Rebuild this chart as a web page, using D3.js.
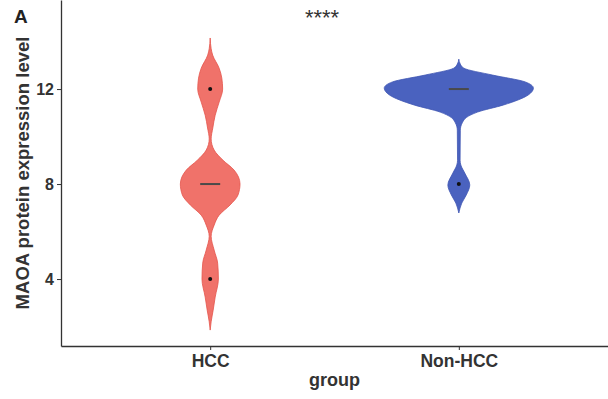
<!DOCTYPE html>
<html>
<head>
<meta charset="utf-8">
<script src="https://cdn.jsdelivr.net/npm/d3@7"></script>
<style>
  body { margin: 0; background: #fff; }
  text { font-family: "Liberation Sans", Arial, sans-serif; }
</style>
</head>
<body>
<div id="chart"></div>
<script>
// categories and ticks
const groups = ["HCC", "Non-HCC"];
const yTicks = [4, 8, 12];

// violin outlines (level, relative density)
const hccLevels  = [14.15, 13.7, 13.43, 12.88, 12.46, 12.0, 11.45, 10.9, 10.36, 9.9, 9.43, 9.0, 8.59, 8.0, 7.54, 7.12, 6.69, 6.27, 5.8, 5.22, 4.67, 4.0, 3.24, 2.69, 2.2, 1.85];
const hccDensity = [0, 0.013, 0.033, 0.12, 0.156, 0.167, 0.12, 0.067, 0.035, 0.013, 0.053, 0.173, 0.32, 0.40, 0.373, 0.267, 0.12, 0.053, 0.013, 0.053, 0.10, 0.11, 0.067, 0.04, 0.013, 0];
const nonLevels  = [13.26, 13.05, 12.88, 12.59, 12.3, 12.04, 11.75, 11.33, 11.03, 10.8, 10.6, 10.27, 9.0, 8.8, 8.46, 7.96, 7.54, 7.2, 6.78];
const nonDensity = [0, 0.02, 0.067, 0.45, 0.89, 1.0, 0.93, 0.6, 0.25, 0.1, 0.05, 0.02, 0.017, 0.027, 0.08, 0.147, 0.1, 0.04, 0];

// medians and outlier points
const medians = [8, 12];
const hccOutliers = [12, 4];
const nonOutliers = [8];

const colors = { "HCC": "#F0726A", "Non-HCC": "#4A62BF" };
const strokes = { "HCC": "#E4544B", "Non-HCC": "#3F56B3" };

const width = 608, height = 399;
const margin = {top: 0, right: 0, bottom: 53, left: 61};

const svg = d3.select("#chart").append("svg")
    .attr("width", width)
    .attr("height", height);

const x = d3.scalePoint()
    .domain(groups)
    .range([margin.left, width - margin.right])
    .padding(0.6);

const y = d3.scaleLinear()
    .domain([1.18, 15.75])
    .range([height - margin.bottom, margin.top]);

const w = d3.scaleLinear()
    .domain([0, 1])
    .range([0, x.step() * 0.3]);

// violins
const violins = [
    {group: "HCC", levels: hccLevels, density: hccDensity},
    {group: "Non-HCC", levels: nonLevels, density: nonDensity}
];

violins.forEach(v => {
    const pts = v.levels.map((l, i) => ({level: l, d: v.density[i]}));
    const cx = x(v.group);
    const area = d3.area()
        .curve(d3.curveMonotoneY)
        .y(d => y(d.level))
        .x0(d => cx - w(d.d))
        .x1(d => cx + w(d.d));
    svg.append("path")
        .datum(pts)
        .attr("d", area)
        .attr("fill", colors[v.group])
        .attr("stroke", strokes[v.group])
        .attr("stroke-width", 0.8);
});

// median lines
svg.selectAll(".median")
    .data(groups)
    .enter().append("line")
    .attr("x1", d => x(d) - 10)
    .attr("x2", d => x(d) + 10)
    .attr("y1", (d, i) => y(medians[i]))
    .attr("y2", (d, i) => y(medians[i]))
    .attr("stroke", "#4a4a4a")
    .attr("stroke-width", 2);

// outliers
const points = hccOutliers.map(v => ({group: "HCC", v}))
    .concat(nonOutliers.map(v => ({group: "Non-HCC", v})));
svg.selectAll(".pt")
    .data(points)
    .enter().append("circle")
    .attr("cx", d => x(d.group))
    .attr("cy", d => y(d.v))
    .attr("r", 2)
    .attr("fill", "#111");

// axes
const yAxis = svg.append("g")
    .attr("transform", `translate(${margin.left},0)`)
    .call(d3.axisLeft(y).tickValues(yTicks).tickSize(4).tickPadding(3).tickSizeOuter(0));

const xAxis = svg.append("g")
    .attr("transform", `translate(0,${height - margin.bottom})`)
    .call(d3.axisBottom(x).tickSize(4).tickPadding(5).tickSizeOuter(0));

[yAxis, xAxis].forEach(g => {
    g.select(".domain").attr("stroke", "#333").attr("stroke-width", 1.3);
    g.selectAll(".tick line").attr("stroke", "#333");
    g.selectAll(".tick text")
        .attr("fill", "#333")
        .style("font-weight", "bold");
});
yAxis.selectAll(".tick text").style("font-size", "16px");
xAxis.selectAll(".tick text").style("font-size", "17.5px");

// axis titles
svg.append("text")
    .attr("x", (margin.left + width) / 2)
    .attr("y", 386)
    .attr("text-anchor", "middle")
    .style("font-size", "18px")
    .style("font-weight", "bold")
    .attr("fill", "#333")
    .text("group");

svg.append("text")
    .attr("transform", `translate(29,${(height - margin.bottom) / 2}) rotate(-90)`)
    .attr("text-anchor", "middle")
    .style("font-size", "18.5px")
    .style("font-weight", "bold")
    .attr("fill", "#333")
    .text("MAOA protein expression level");

// panel label and significance
svg.append("text")
    .attr("x", 14)
    .attr("y", 23)
    .style("font-size", "19px")
    .style("font-weight", "bold")
    .attr("fill", "#222")
    .text("A");

svg.append("text")
    .attr("x", 322)
    .attr("y", 25)
    .attr("text-anchor", "middle")
    .style("font-size", "22px")
    .attr("fill", "#333")
    .text("****");
</script>
</body>
</html>
